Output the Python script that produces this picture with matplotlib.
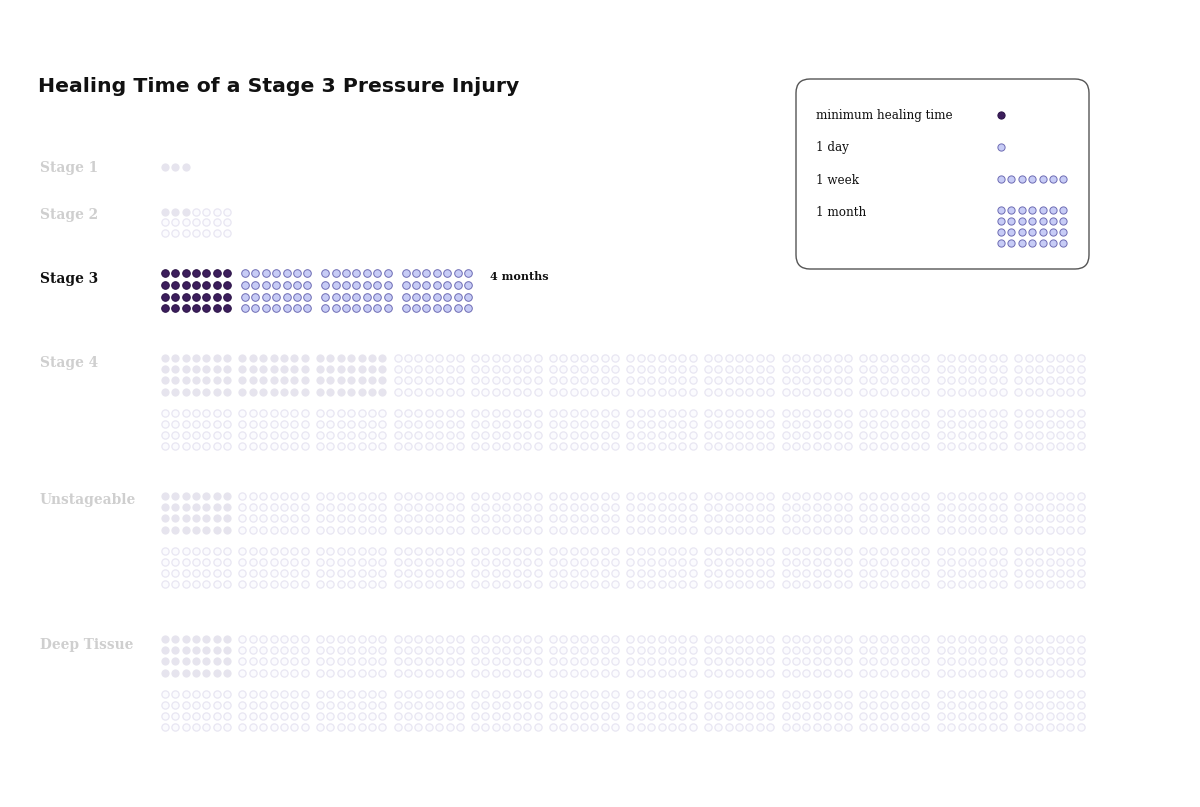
import numpy as np
import matplotlib
matplotlib.use("Agg")
import matplotlib.pyplot as plt
from matplotlib.patches import FancyBboxPatch

# ---------------- data ----------------
stages = ["Stage 1", "Stage 2", "Stage 3", "Stage 4", "Unstageable", "Deep Tissue"]
min_days = [3, 3, 28, 84, 28, 28]          # minimum healing time (days, month = 28 days)
max_days = [3, 21, 112, 672, 672, 672]     # maximum healing time (days)
highlight = "Stage 3"
highlight_label = "4 months"
title = "Healing Time of a Stage 3 Pressure Injury"
legend_labels = ["minimum healing time", "1 day", "1 week", "1 month"]
legend_days = [1, 1, 7, 28]

DAYS_PER_WEEK = 7
DAYS_PER_MONTH = 28
MONTHS_PER_ROW = 12

# ---------------- style / layout ----------------
W, H = 1200, 807
fig = plt.figure(figsize=(W / 100, H / 100), dpi=100)
ax = fig.add_axes([0, 0, 1, 1])
ax.set_xlim(0, W)
ax.set_ylim(H, 0)
ax.axis("off")

serif = ["DejaVu Serif"]
title_font = ["DejaVu Sans"]

dark_fill, dark_edge = "#3c1e5c", "#2a1246"
light_fill, light_edge = "#c7ccf6", "#6e6cb4"
faded_fill, faded_edge = "#e6e4ee", "#e6e4ee"
faded_ofill, faded_oedge = "#fbfbfe", "#e8e6f2"

x0 = 164.7
stage_y0 = [167, 211.5, 273.3, 358, 496, 639]
label_y = [168, 215, 279, 363, 500, 645]
dot_dx = 10.4
block_row_dy = 54.5

S = 27
S_HI = 30

ax.text(38, 86, title, fontsize=14.7, fontweight="bold", family=title_font,
        color="#111111", va="center", ha="left")

for i, name in enumerate(stages):
    hi = name == highlight
    d = np.arange(max_days[i])
    month = d // DAYS_PER_MONTH
    week = (d % DAYS_PER_MONTH) // DAYS_PER_WEEK
    day = d % DAYS_PER_WEEK
    bcol = month % MONTHS_PER_ROW
    brow = month // MONTHS_PER_ROW
    block_dx = 80.3 if hi else 77.6
    dot_dy = 11.7 if hi else (10.8 if max_days[i] <= DAYS_PER_MONTH else 11.2)
    xs = x0 + bcol * block_dx + day * dot_dx
    ys = stage_y0[i] + brow * block_row_dy + week * dot_dy
    filled = d < min_days[i]
    if hi:
        ax.scatter(xs[filled], ys[filled], s=S_HI, c=dark_fill, edgecolors=dark_edge,
                   linewidths=0.7, zorder=3)
        ax.scatter(xs[~filled], ys[~filled], s=S_HI, c=light_fill, edgecolors=light_edge,
                   linewidths=0.7, zorder=3)
        n_months = int(np.ceil(max_days[i] / DAYS_PER_MONTH))
        ax.text(x0 + n_months * block_dx + 4, stage_y0[i] + 3, highlight_label,
                fontsize=8, fontweight="bold", family=serif, color="#111111",
                va="center", ha="left")
        lc = "#111111"
    else:
        ax.scatter(xs[filled], ys[filled], s=S, c=faded_fill, edgecolors=faded_edge,
                   linewidths=0.7, zorder=3)
        ax.scatter(xs[~filled], ys[~filled], s=S, c=faded_ofill, edgecolors=faded_oedge,
                   linewidths=0.9, zorder=3)
        lc = "#cfcfcf"
    ax.text(40, label_y[i], name, fontsize=9.9, fontweight="bold", family=serif,
            color=lc, va="center", ha="left")

# ---------------- legend box ----------------
box = FancyBboxPatch((796 + 12, 79 + 12), 293 - 24, 190 - 24,
                     boxstyle="round,pad=12,rounding_size=14",
                     fc="white", ec="#555555", lw=1.0, zorder=2)
ax.add_patch(box)

leg_text_y = [116, 148, 180, 212]
leg_dot_y = [115, 147, 179, 210]
lx0 = 1001
for j, (lab, nd) in enumerate(zip(legend_labels, legend_days)):
    ax.text(816, leg_text_y[j], lab, fontsize=8.6, family=serif, color="#111111",
            va="center", ha="left")
    d = np.arange(nd)
    xs = lx0 + (d % DAYS_PER_WEEK) * dot_dx
    ys = leg_dot_y[j] + (d // DAYS_PER_WEEK) * 11.0
    if j == 0:
        ax.scatter(xs, ys, s=S, c=dark_fill, edgecolors=dark_edge, linewidths=0.7, zorder=3)
    else:
        ax.scatter(xs, ys, s=S, c=light_fill, edgecolors=light_edge, linewidths=0.7, zorder=3)

fig.savefig("out.png", dpi=100, facecolor="white")
